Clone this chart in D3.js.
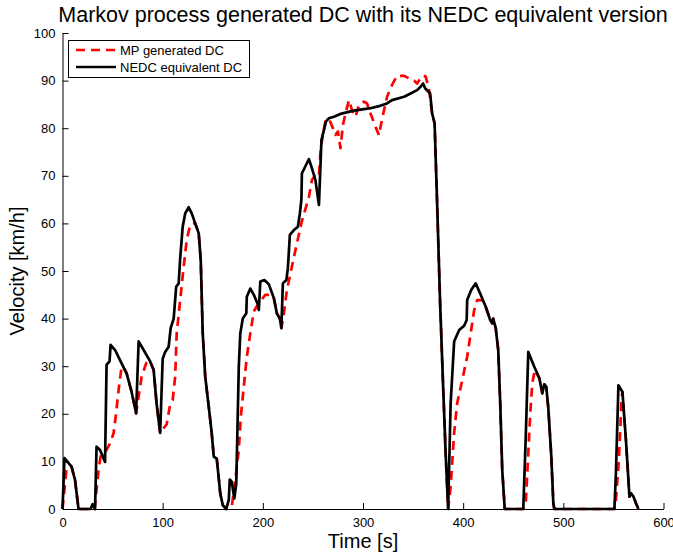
<!DOCTYPE html>
<html>
<head>
<meta charset="utf-8">
<script src="https://cdn.jsdelivr.net/npm/d3@7"></script>
<style>
  body { margin: 0; background: #fff; }
  svg { display: block; font-family: "Liberation Sans", Arial, sans-serif; }
</style>
</head>
<body>
<svg id="chart" width="673" height="555"></svg>
<script>
// NEDC equivalent drive cycle (black solid)
const nedcTime = [0, 2, 9, 12.5, 16, 28, 30, 32.5, 34, 37.5, 42.5, 44, 47, 48, 52.5, 59, 64, 69, 73.5, 76, 81, 87.5, 91, 94, 97.5,
  100, 102.5, 106, 108, 111, 113.5, 116, 117.5, 120, 122.5, 126, 129, 132.5, 136, 138, 140, 142.5, 146, 149, 151, 154, 157.5, 160,
  163.5, 166, 167, 169, 171.5, 173.5, 176, 177.5, 180, 183.5, 184, 187.5, 191, 195, 196, 197.5, 201.5, 206, 211, 214, 217, 218.5,
  220, 223.5, 225, 227, 231, 235, 237, 238.5, 239, 242, 246, 249, 252.5, 256, 257.5, 258.5, 261, 263, 266, 271, 277.5, 291, 307.5,
  317, 324, 329, 341, 347.5, 354, 357.5, 360, 362, 367, 369, 371.5, 374, 377, 380, 382.5, 385, 387.5, 391, 396, 401, 403.5, 404,
  408, 412.5, 417.5, 422.5, 427, 429, 430, 432.5, 435, 437, 439, 441.5, 460, 462.5, 465, 471, 476, 479, 481, 483, 485, 488, 490,
  491, 551, 552.5, 555, 559, 562.5, 566, 567.5, 570, 572.5, 575];
const nedcSpeed = [0, 10.7, 8.9, 6.1, 0, 0, 1, 0, 13.1, 12.4, 9.9, 30.3, 31, 34.5, 33.4, 30.6, 28.5, 24.6, 20.1, 35.2, 33.4, 31, 29.2, 22, 16,
  31.5, 33, 34.1, 38, 40, 46.7, 47.4, 52.7, 59.3, 62.1, 63.4, 62.1, 60, 57.9, 52.3, 36.9, 27.8, 21.5, 15.9, 11, 10.6, 3.3, 0.8,
  0, 1.9, 6.2, 5.7, 2.2, 5.4, 29.9, 36.9, 40, 41.1, 44.6, 46.3, 45, 43, 41.8, 47.8, 48.1, 47.2, 44.3, 41.1, 40, 38,
  47.4, 48.1, 50.6, 57.6, 58.6, 59.3, 62.1, 65, 70.5, 71.8, 73.5, 71.6, 69.1, 63.9, 71.9, 77.5, 79.6, 81.4, 82.1, 82.4, 83, 83.7, 84.2,
  84.7, 85.2, 85.9, 86.6, 87.3, 88, 88.7, 89.4, 88.4, 87.3, 83.1, 81, 64.2, 43.2, 25.7, 11.7, 0, 22.2, 35.2, 37.6, 38.5, 39.7, 43.9,
  46, 47.4, 45, 42.5, 39.7, 39, 40, 38, 33.4, 22.2, 8.2, 0, 0, 15.2, 33, 29.9, 27.5, 24.3, 26.2, 25.6, 21.2, 11, 1.2,
  0, 0, 7.5, 26, 24.6, 14.5, 2.6, 3.3, 2.6, 1.2, 0];

// Markov process generated drive cycle (red dashed)
const mpTime = [0, 4, 9, 12.5, 16, 32, 34, 36, 38, 44, 47.5, 51, 53.5, 56, 59, 62.5, 64, 69, 73.5, 76, 79, 83.5, 87.5, 91, 94, 97.5,
  104, 107.5, 110, 112.5, 114, 117.5, 121, 124, 127.5, 131, 132.5, 136, 138, 140, 142.5, 146, 149, 151, 154, 157.5, 160, 163.5,
  169, 172.5, 176, 178, 181, 184, 187.5, 191, 194, 197.5, 202.5, 209, 211, 214, 217, 218.5, 221, 224, 229, 234, 239, 242.5, 246,
  249, 252.5, 256, 257.5, 260, 262.5, 266, 270, 272.5, 275, 277.5, 280, 282.5, 286, 289, 292.5, 296, 301, 304, 307.5, 312.5, 316,
  317.5, 321, 324, 329, 334, 341, 347.5, 351, 354, 359, 362.5, 366, 369, 371.5, 374, 377, 380, 382.5, 385, 387.5, 391, 394, 399,
  404, 408, 411, 414, 419, 422.5, 427, 429, 430, 432.5, 435, 437, 439, 441.5, 460, 462.5, 465, 467, 469, 471.5, 476, 479, 481, 483,
  485, 488, 490, 491, 551, 552.5, 555, 557, 558, 559, 562.5, 566, 567.5, 570, 572.5, 575];
const mpSpeed = [0, 8.5, 8.9, 6.1, 0, 0, 4, 8.2, 11, 12.4, 13.8, 15.9, 20.1, 25, 29.9, 29.2, 28.5, 24.6, 20.1, 23.6, 27.8, 30.6, 31, 29.2, 22, 16,
  17.8, 22, 22.9, 27.8, 36.9, 43.9, 50.9, 56.5, 59.7, 60, 60, 57.9, 52.3, 36.9, 27.8, 21.5, 15.9, 11, 10.6, 3.3, 0.8, 0,
  0.5, 6.1, 12.4, 19.4, 25.7, 32, 36.9, 41.5, 42.6, 43.6, 45, 45, 44.3, 41.1, 40, 38, 41.1, 46, 50.9, 55.8, 60.5, 63, 65.6,
  69.1, 70.3, 70, 74.7, 78.9, 81.4, 82, 80, 78.6, 79.3, 75.8, 80.7, 83.1, 85.9, 83.8, 82.4, 84.9, 85.6, 85.2, 83.1, 80.3, 78.5,
  80.3, 83.8, 86.6, 89.1, 91, 91, 90.3, 90, 89.4, 91, 90.9, 88, 83.1, 81, 64.2, 43.2, 25.7, 11.7, 0, 4.7, 16, 22.2, 27,
  32, 37.6, 41.8, 43.9, 43.9, 42.5, 39.7, 39, 40, 38, 33.4, 22.2, 8.2, 0, 0, 1.2, 11.7, 20.1, 26.4, 29.2, 27.5, 24.3, 26.2, 25.6,
  21.2, 11, 1.2, 0, 0, 1.9, 8.9, 17.3, 23.3, 24.6, 14.5, 2.6, 3.3, 2.6, 1.2, 0];

const xTicks = [0, 100, 200, 300, 400, 500, 600];
const yTicks = [0, 10, 20, 30, 40, 50, 60, 70, 80, 90, 100];
const legendLabels = ['MP generated DC', 'NEDC equivalent DC'];

const plot = { left: 62.5, right: 663.5, top: 33, bottom: 509 };

const svg = d3.select('#chart');

const x = d3.scaleLinear().domain([0, 600]).range([plot.left, plot.right]);
const y = d3.scaleLinear().domain([0, 100]).range([plot.bottom, plot.top]);

const mpData = mpTime.map((t, i) => [t, mpSpeed[i]]);
const nedcData = nedcTime.map((t, i) => [t, nedcSpeed[i]]);

const line = d3.line().x(d => x(d[0])).y(d => y(d[1]));

// curves (red first, black on top)
svg.append('path')
  .datum(mpData)
  .attr('d', line)
  .attr('fill', 'none')
  .attr('stroke', '#ff0000')
  .attr('stroke-width', 2.7)
  .attr('stroke-dasharray', '9,6')
  .attr('stroke-linejoin', 'round');

svg.append('path')
  .datum(nedcData)
  .attr('d', line)
  .attr('fill', 'none')
  .attr('stroke', '#000')
  .attr('stroke-width', 2.7)
  .attr('stroke-linejoin', 'round');

// axes, MATLAB style: ticks inside, no box
const xAxis = svg.append('g')
  .attr('transform', `translate(0,${plot.bottom})`)
  .call(d3.axisBottom(x).tickValues(xTicks).tickSizeInner(-6).tickSizeOuter(0).tickPadding(9));

const yAxis = svg.append('g')
  .attr('transform', `translate(${plot.left},0)`)
  .call(d3.axisLeft(y).tickValues(yTicks).tickSizeInner(-6).tickSizeOuter(0).tickPadding(7));

[xAxis, yAxis].forEach(g => {
  g.selectAll('text').attr('font-size', 13).attr('fill', '#000')
    .attr('font-family', '"Liberation Sans", Arial, sans-serif');
  g.selectAll('line').attr('stroke', '#000');
  g.select('.domain').attr('stroke', '#000');
});

// title and axis labels
svg.append('text')
  .attr('x', 363)
  .attr('y', 22)
  .attr('text-anchor', 'middle')
  .attr('font-size', 21.5)
  .text('Markov process generated DC with its NEDC equivalent version');

svg.append('text')
  .attr('x', (plot.left + plot.right) / 2)
  .attr('y', 548)
  .attr('text-anchor', 'middle')
  .attr('font-size', 20)
  .text('Time [s]');

svg.append('text')
  .attr('transform', `translate(24,${(plot.top + plot.bottom) / 2}) rotate(-90)`)
  .attr('text-anchor', 'middle')
  .attr('font-size', 20)
  .text('Velocity [km/h]');

// legend
const legend = svg.append('g');
legend.append('rect')
  .attr('x', 68.5).attr('y', 40.5)
  .attr('width', 181).attr('height', 37)
  .attr('fill', '#fff').attr('stroke', '#000');

const legendStyles = [
  { stroke: '#ff0000', dash: '9,6' },
  { stroke: '#000', dash: null }
];

legendLabels.forEach((label, i) => {
  const ly = 50 + i * 17;
  legend.append('line')
    .attr('x1', 76).attr('x2', 116)
    .attr('y1', ly).attr('y2', ly)
    .attr('stroke', legendStyles[i].stroke)
    .attr('stroke-width', 2.7)
    .attr('stroke-dasharray', legendStyles[i].dash);
  legend.append('text')
    .attr('x', 120)
    .attr('y', ly + 4.5)
    .attr('font-size', 13)
    .text(label);
});
</script>
</body>
</html>
